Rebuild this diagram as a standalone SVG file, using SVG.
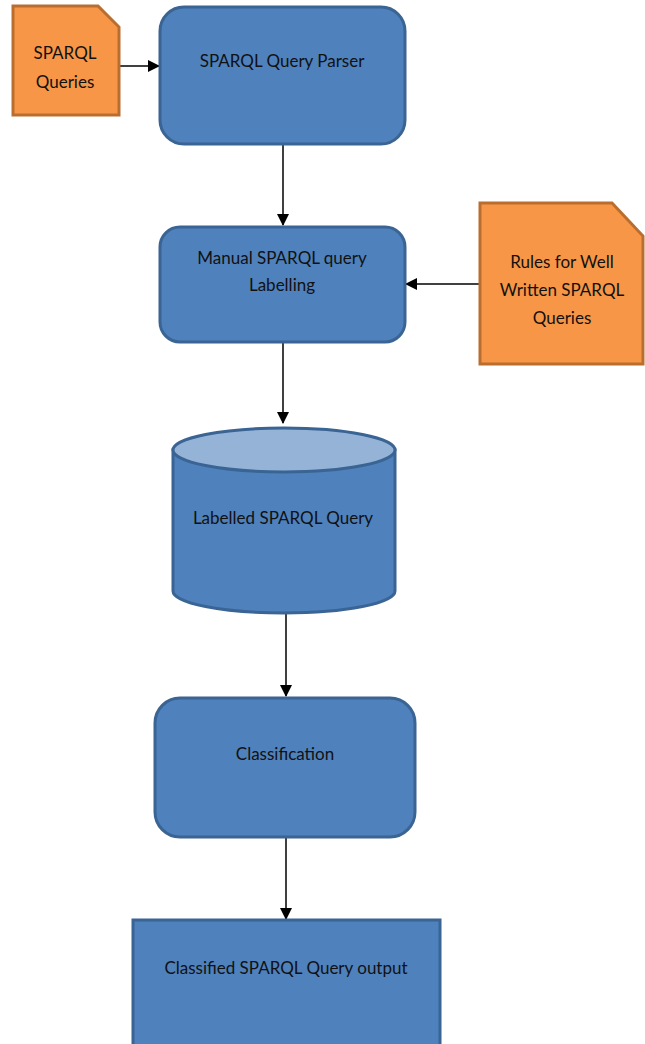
<svg xmlns="http://www.w3.org/2000/svg" width="645" height="1044" viewBox="0 0 645 1044">
<style>
.blue{fill:#4F81BD;stroke:#3A6494;stroke-width:3}
.org{fill:#F79646;stroke:#B96E2F;stroke-width:3}
.lt{fill:#95B3D7;stroke:#3A6494;stroke-width:3}
.t{font-family:Lato,"Open Sans","Liberation Sans",sans-serif;font-size:17px;fill:#111;text-anchor:middle}
.c{stroke:#000;stroke-width:1.5;fill:none;marker-end:url(#ah)}
</style>
<defs>
<marker id="ah" markerWidth="12" markerHeight="12" refX="11" refY="6" orient="auto" markerUnits="userSpaceOnUse">
<path d="M0,0 L12,6 L0,12 Z" fill="#000"/>
</marker>
</defs>
<rect width="645" height="1044" fill="#fff"/>
<g id="connectors">
<line class="c" x1="119" y1="66" x2="159" y2="66"/>
<line class="c" x1="283" y1="144" x2="283" y2="225"/>
<line class="c" x1="480" y1="284" x2="406" y2="284"/>
<line class="c" x1="283" y1="342" x2="283" y2="423"/>
<line class="c" x1="286" y1="613" x2="286" y2="696"/>
<line class="c" x1="286" y1="837" x2="286" y2="919"/>
</g>
<g id="sparql-queries">
<path class="org" d="M13,6 H98 L119,27 V115 H13 Z"/>
<text class="t" x="65" y="59">SPARQL</text>
<text class="t" x="65" y="88">Queries</text>
</g>
<g id="parser">
<rect class="blue" x="160" y="7" width="245" height="137" rx="24"/>
<text class="t" x="282" y="67">SPARQL Query Parser</text>
</g>
<g id="manual">
<rect class="blue" x="160" y="227" width="245" height="115" rx="20"/>
<text class="t" x="282" y="264">Manual SPARQL query</text>
<text class="t" x="282" y="291">Labelling</text>
</g>
<g id="rules">
<path class="org" d="M480,203 H612 L643,236 V364 H480 Z"/>
<text class="t" x="562" y="268">Rules for Well</text>
<text class="t" x="562" y="296">Written SPARQL</text>
<text class="t" x="562" y="324">Queries</text>
</g>
<g id="labelled">
<path class="blue" d="M173,450 V591 A111,22 0 0 0 395,591 V450 Z"/>
<ellipse class="lt" cx="284" cy="450" rx="111" ry="22"/>
<text class="t" x="283" y="524">Labelled SPARQL Query</text>
</g>
<g id="classification">
<rect class="blue" x="155" y="698" width="260" height="139" rx="25"/>
<text class="t" x="285" y="760">Classification</text>
</g>
<g id="output">
<rect class="blue" x="133" y="920" width="307" height="140"/>
<text class="t" x="286" y="974">Classified SPARQL Query output</text>
</g>
</svg>
